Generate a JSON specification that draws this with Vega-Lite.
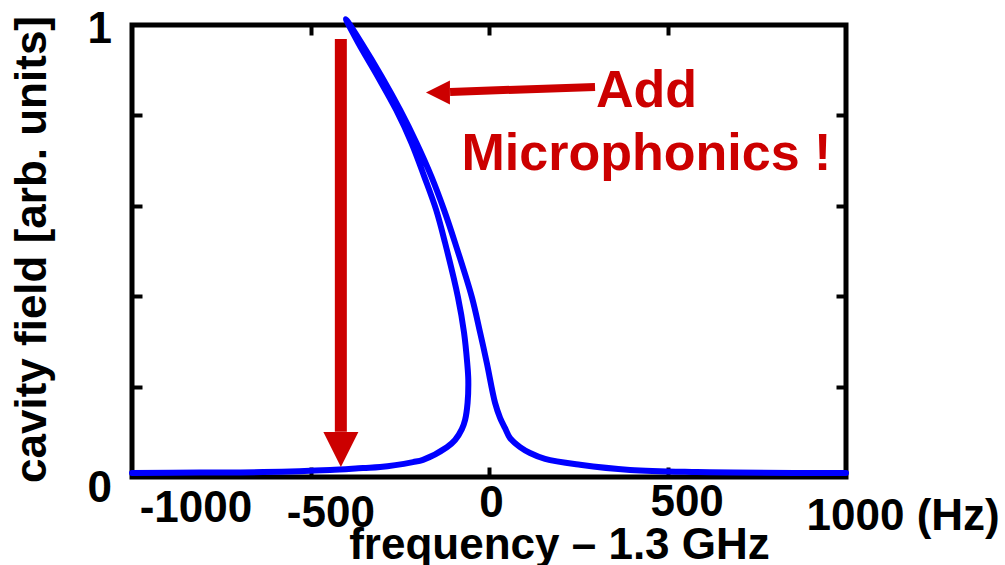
{
  "$schema": "https://vega.github.io/schema/vega-lite/v6.json",
  "width": 714,
  "height": 452,
  "autosize": {"type": "none"},
  "padding": {"left": 132, "top": 25, "right": 159, "bottom": 88},
  "background": "white",
  "config": {"view": {"stroke": "black", "strokeWidth": 5}, "font": "Liberation Sans"},
  "datasets": {
    "curve": [
      {"o": 1, "f": -1000, "a": 0.009},
      {"o": 2, "f": -810, "a": 0.010},
      {"o": 3, "f": -633, "a": 0.011},
      {"o": 4, "f": -445, "a": 0.0155},
      {"o": 5, "f": -353, "a": 0.020},
      {"o": 6, "f": -305, "a": 0.022},
      {"o": 7, "f": -213, "a": 0.033},
      {"o": 8, "f": -185, "a": 0.038},
      {"o": 11, "f": -118, "a": 0.066},
      {"o": 12, "f": -95, "a": 0.082},
      {"o": 13, "f": -76, "a": 0.106},
      {"o": 14, "f": -67, "a": 0.126},
      {"o": 15, "f": -60, "a": 0.164},
      {"o": 16, "f": -58, "a": 0.215},
      {"o": 17, "f": -61, "a": 0.252},
      {"o": 18, "f": -70, "a": 0.320},
      {"o": 19, "f": -87, "a": 0.398},
      {"o": 20, "f": -123, "a": 0.518},
      {"o": 21, "f": -148, "a": 0.591},
      {"o": 22, "f": -181, "a": 0.664},
      {"o": 23, "f": -217, "a": 0.739},
      {"o": 24, "f": -260, "a": 0.812},
      {"o": 25, "f": -311, "a": 0.885},
      {"o": 26, "f": -366, "a": 0.960},
      {"o": 27, "f": -401, "a": 1.013},
      {"o": 28, "f": -357, "a": 0.960},
      {"o": 29, "f": -300, "a": 0.885},
      {"o": 30, "f": -249, "a": 0.812},
      {"o": 31, "f": -203, "a": 0.739},
      {"o": 32, "f": -161, "a": 0.664},
      {"o": 33, "f": -126, "a": 0.591},
      {"o": 34, "f": -95, "a": 0.518},
      {"o": 35, "f": -48, "a": 0.398},
      {"o": 36, "f": -25, "a": 0.320},
      {"o": 37, "f": -6, "a": 0.252},
      {"o": 38, "f": 17, "a": 0.164},
      {"o": 39, "f": 31, "a": 0.131},
      {"o": 40, "f": 45, "a": 0.108},
      {"o": 41, "f": 59, "a": 0.086},
      {"o": 42, "f": 87, "a": 0.066},
      {"o": 43, "f": 115, "a": 0.053},
      {"o": 44, "f": 157, "a": 0.040},
      {"o": 45, "f": 255, "a": 0.027},
      {"o": 46, "f": 395, "a": 0.0155},
      {"o": 47, "f": 583, "a": 0.011},
      {"o": 48, "f": 908, "a": 0.009},
      {"o": 49, "f": 1000, "a": 0.009}
    ],
    "vshaft": [{"x": -415, "y": 0.969, "y2": 0.100}],
    "vhead": [{"x": -415, "y": 0.0608}],
    "hshaft": [{"x": -109, "y": 0.852, "x2": 297, "y2": 0.863}],
    "hhead": [{"x": -143, "y": 0.8507}],
    "xlabels": [
      {"x": -821, "y": -0.0996, "t": "-1000"},
      {"x": -443, "y": -0.1106, "t": "-500"},
      {"x": 7, "y": -0.0885, "t": "0"},
      {"x": 555, "y": -0.0863, "t": "500"},
      {"x": 1160, "y": -0.1173, "t": "1000 (Hz)"}
    ],
    "ylabels": [
      {"x": -1056, "y": 0.960, "t": "1"},
      {"x": -1056, "y": -0.0553, "t": "0"}
    ],
    "notes": [
      {"x": 441, "y": 0.8186, "t": "Add"},
      {"x": 441, "y": 0.6792, "t": "Microphonics !"}
    ]
  },
  "layer": [
    {
      "data": {"name": "curve"},
      "mark": {"type": "line", "color": "#0000FF", "strokeWidth": 6, "strokeCap": "round", "strokeJoin": "round", "interpolate": "catmull-rom", "clip": false},
      "encoding": {
        "x": {"field": "f", "type": "quantitative", "scale": {"domain": [-1000, 1000], "nice": false, "zero": false},
          "axis": {"orient": "bottom", "values": [-500, 0, 500], "labels": false, "domain": false, "grid": false, "tickSize": -10, "tickWidth": 4, "tickColor": "black",
            "title": "frequency – 1.3 GHz", "titleFont": "Liberation Sans", "titleFontSize": 44, "titleFontWeight": "bold", "titleColor": "black",
            "titleX": 427, "titleY": 81, "titleAlign": "center", "titleBaseline": "alphabetic"}},
        "y": {"field": "a", "type": "quantitative", "scale": {"domain": [0, 1], "nice": false, "zero": false},
          "axis": {"orient": "left", "values": [0.2, 0.4, 0.6, 0.8], "labels": false, "domain": false, "grid": false, "tickSize": -10, "tickWidth": 4, "tickColor": "black",
            "title": "cavity field [arb. units]", "titleFont": "Liberation Sans", "titleFontSize": 44, "titleFontWeight": "bold", "titleColor": "black",
            "titleAngle": 270, "titleX": -87, "titleY": 224, "titleAlign": "center", "titleBaseline": "alphabetic"}},
        "order": {"field": "o", "type": "quantitative"}
      }
    },
    {
      "data": {"name": "vshaft"},
      "mark": {"type": "rule", "color": "#CC0000", "strokeWidth": 12, "strokeCap": "butt"},
      "encoding": {
        "x": {"field": "x", "type": "quantitative",
          "axis": {"orient": "top", "values": [-500, 0, 500], "labels": false, "domain": false, "grid": false, "tickSize": -10, "tickWidth": 4, "tickColor": "black", "title": null}},
        "y": {"field": "y", "type": "quantitative",
          "axis": {"orient": "right", "values": [0.2, 0.4, 0.6, 0.8], "labels": false, "domain": false, "grid": false, "tickSize": -10, "tickWidth": 4, "tickColor": "black", "title": null}},
        "y2": {"field": "y2"}
      }
    },
    {
      "data": {"name": "vhead"},
      "mark": {"type": "point", "shape": "M-1,-1L1,-1L0,1Z", "size": 1225, "filled": true, "color": "#CC0000", "opacity": 1, "strokeWidth": 0},
      "encoding": {
        "x": {"field": "x", "type": "quantitative", "axis": null},
        "y": {"field": "y", "type": "quantitative", "axis": null}
      }
    },
    {
      "data": {"name": "hshaft"},
      "mark": {"type": "rule", "color": "#CC0000", "strokeWidth": 8, "strokeCap": "butt"},
      "encoding": {
        "x": {"field": "x", "type": "quantitative", "axis": null},
        "y": {"field": "y", "type": "quantitative", "axis": null},
        "x2": {"field": "x2"},
        "y2": {"field": "y2"}
      }
    },
    {
      "data": {"name": "hhead"},
      "mark": {"type": "point", "shape": "M1,-1L1,1L-1,0Z", "size": 576, "filled": true, "color": "#CC0000", "opacity": 1, "strokeWidth": 0},
      "encoding": {
        "x": {"field": "x", "type": "quantitative", "axis": null},
        "y": {"field": "y", "type": "quantitative", "axis": null}
      }
    },
    {
      "data": {"name": "xlabels"},
      "mark": {"type": "text", "font": "Liberation Sans", "fontSize": 44, "fontWeight": "bold", "color": "black", "align": "center", "baseline": "alphabetic"},
      "encoding": {
        "x": {"field": "x", "type": "quantitative", "axis": null},
        "y": {"field": "y", "type": "quantitative", "axis": null},
        "text": {"field": "t"}
      }
    },
    {
      "data": {"name": "ylabels"},
      "mark": {"type": "text", "font": "Liberation Sans", "fontSize": 44, "fontWeight": "bold", "color": "black", "align": "right", "baseline": "alphabetic"},
      "encoding": {
        "x": {"field": "x", "type": "quantitative", "axis": null},
        "y": {"field": "y", "type": "quantitative", "axis": null},
        "text": {"field": "t"}
      }
    },
    {
      "data": {"name": "notes"},
      "mark": {"type": "text", "font": "Liberation Sans", "fontSize": 52, "fontWeight": "bold", "color": "#CC0000", "align": "center", "baseline": "alphabetic"},
      "encoding": {
        "x": {"field": "x", "type": "quantitative", "axis": null},
        "y": {"field": "y", "type": "quantitative", "axis": null},
        "text": {"field": "t"}
      }
    }
  ],
  "resolve": {"axis": {"x": "independent", "y": "independent"}}
}
